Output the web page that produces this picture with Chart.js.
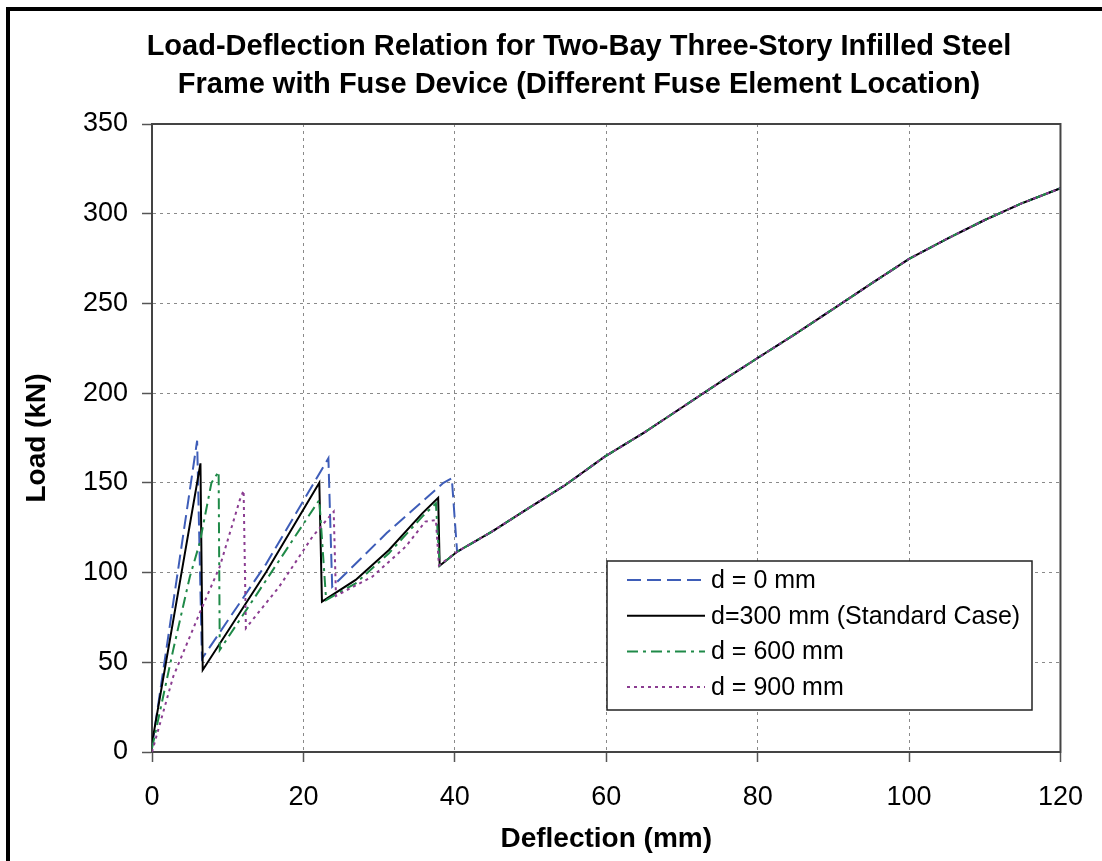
<!DOCTYPE html>
<html>
<head>
<meta charset="utf-8">
<script src="https://cdn.jsdelivr.net/npm/chart.js@4.4.0/dist/chart.umd.min.js"></script>
<style>
html, body { margin: 0; padding: 0; background: #fff; }
#wrap { width: 1102px; height: 861px; }
</style>
</head>
<body>
<div id="wrap"><canvas id="myChart" width="1102" height="861"></canvas></div>
<script>
// values: deflection (mm) / load (kN)
const titleLines = ['Load-Deflection Relation for Two-Bay Three-Story Infilled Steel',
                    'Frame with Fuse Device (Different Fuse Element Location)'];
const xTicks = [0, 20, 40, 60, 80, 100, 120];
const yTicks = [0, 50, 100, 150, 200, 250, 300, 350];
const seriesNames = ['d = 0 mm', 'd=300 mm (Standard Case)', 'd = 600 mm', 'd = 900 mm'];

// shared part after the last fuse drop
const commonDefl = [40.3, 44.9, 49.7, 54.6, 59.8, 65, 70, 75, 80, 85, 90, 95, 100, 105, 110, 115, 120];
const commonLoad = [111.6, 122.8, 135.8, 148.8, 164.6, 178, 192, 206, 219.6, 233, 247, 261, 274.8, 286, 296.5, 306, 314.2];

const d0Defl = [0, 5.96, 6.6, 15.1, 23.3, 23.8, 31, 38.5, 39.6];
const d0Load = [3, 173.5, 52, 105, 163.7, 92.1, 122, 150, 152.6];

const d300Defl = [0, 6.4, 6.7, 15.1, 22.1, 22.45, 26.9, 31.3, 35.7, 37.8, 38.0];
const d300Load = [5, 160.9, 45.7, 100.5, 150.1, 83.8, 95.9, 112.6, 133, 141.7, 103.8];

const d600Defl = [0, 2.8, 5.0, 6.3, 7.85, 8.8, 8.95, 15.1, 22.1, 23.0, 26.9, 31.3, 35.7, 37.5, 38.0];
const d600Load = [2, 56.9, 97.7, 116.5, 150, 156.2, 56.9, 95.9, 140.5, 84.7, 94, 110.8, 131.2, 138.6, 103.8];

const d900Defl = [0, 2.8, 6.3, 8.95, 11.6, 12.1, 12.4, 16.8, 21.2, 24.0, 24.3, 29.1, 33.5, 36.1, 37.5, 37.9];
const d900Load = [0, 42, 77.5, 103.3, 140.5, 145.7, 69, 92.1, 120, 134, 87, 97.7, 114.4, 128.4, 129.3, 104];

function toPoints(defl, load) {
    const pts = [];
    for (let i = 0; i < defl.length; i++) pts.push({x: defl[i], y: load[i]});
    for (let i = 0; i < commonDefl.length; i++) pts.push({x: commonDefl[i], y: commonLoad[i]});
    return pts;
}

const FONT = '"Liberation Sans", Arial, sans-serif';

// frame, plot border, title and the boxed legend
const decor = {
    id: 'decor',
    beforeDraw(chart) {
        const ctx = chart.ctx;
        ctx.save();
        ctx.fillStyle = '#fff';
        ctx.fillRect(0, 0, chart.width, chart.height);
        ctx.fillStyle = '#000';
        ctx.fillRect(6, 7, chart.width - 6, 4);
        ctx.fillRect(6, 7, 4, chart.height - 7);
        ctx.restore();
    },
    beforeDatasetsDraw(chart) {
        const a = chart.chartArea;
        const ctx = chart.ctx;
        ctx.save();
        ctx.strokeStyle = '#444';
        ctx.lineWidth = 2;
        ctx.strokeRect(a.left, a.top, a.right - a.left, a.bottom - a.top);
        ctx.restore();
    },
    afterDraw(chart) {
        const ctx = chart.ctx;
        ctx.save();
        ctx.fillStyle = '#000';
        ctx.font = 'bold 29px ' + FONT;
        ctx.textAlign = 'center';
        ctx.textBaseline = 'middle';
        ctx.fillText(titleLines[0], 579, 47);
        ctx.fillText(titleLines[1], 579, 85);

        // legend
        ctx.fillStyle = '#fff';
        ctx.fillRect(607, 561, 425, 149);
        ctx.strokeStyle = '#222';
        ctx.lineWidth = 1.5;
        ctx.strokeRect(607, 561, 425, 149);
        ctx.textAlign = 'left';
        ctx.font = '25px ' + FONT;
        chart.data.datasets.forEach((ds, i) => {
            const y = 580 + i * 35.7;
            ctx.strokeStyle = ds.borderColor;
            ctx.lineWidth = ds.borderWidth;
            ctx.setLineDash(ds.borderDash || []);
            ctx.beginPath();
            ctx.moveTo(627, y);
            ctx.lineTo(705, y);
            ctx.stroke();
            ctx.setLineDash([]);
            ctx.fillStyle = '#000';
            ctx.fillText(ds.label, 711, y + 1);
        });
        ctx.restore();
    }
};

const ctx = document.getElementById('myChart').getContext('2d');
const chart = new Chart(ctx, {
    type: 'line',
    data: {
        datasets: [{
            label: seriesNames[0],
            data: toPoints(d0Defl, d0Load),
            borderColor: '#3E5DB8',
            borderWidth: 2,
            borderDash: [14, 6],
            order: 4
        }, {
            label: seriesNames[1],
            data: toPoints(d300Defl, d300Load),
            borderColor: '#000000',
            borderWidth: 2,
            order: 3
        }, {
            label: seriesNames[2],
            data: toPoints(d600Defl, d600Load),
            borderColor: '#1F8A48',
            borderWidth: 2,
            borderDash: [11, 5, 3, 5],
            order: 2
        }, {
            label: seriesNames[3],
            data: toPoints(d900Defl, d900Load),
            borderColor: '#8B3D91',
            borderWidth: 2,
            borderDash: [3, 4],
            order: 1
        }]
    },
    options: {
        responsive: false,
        animation: false,
        devicePixelRatio: 1,
        layout: { padding: { top: 124, right: 38, bottom: 0, left: 0 } },
        elements: {
            point: { radius: 0 },
            line: { tension: 0, fill: false }
        },
        plugins: {
            legend: { display: false },
            title: { display: false },
            tooltip: { enabled: false }
        },
        scales: {
            x: {
                type: 'linear',
                min: 0,
                max: 120,
                afterFit: s => { s.height = 109; },
                afterBuildTicks: s => { s.ticks = xTicks.map(v => ({value: v})); },
                ticks: {
                    color: '#000',
                    font: { family: FONT, size: 27 },
                    padding: 19,
                    maxRotation: 0
                },
                grid: { color: '#8a8a8a', tickColor: '#555', tickLength: 10, tickWidth: 1.5 },
                border: { color: '#444', width: 2, dash: [3, 4] },
                title: {
                    display: true,
                    text: 'Deflection (mm)',
                    color: '#000',
                    font: { family: FONT, size: 28, weight: 'bold' },
                    padding: { top: 0, bottom: 5 }
                }
            },
            y: {
                type: 'linear',
                min: 0,
                max: 350,
                afterFit: s => { s.width = 152; },
                afterBuildTicks: s => { s.ticks = yTicks.map(v => ({value: v})); },
                ticks: {
                    color: '#000',
                    font: { family: FONT, size: 27 },
                    padding: 14
                },
                grid: { color: '#8a8a8a', tickColor: '#555', tickLength: 10, tickWidth: 1.5 },
                border: { color: '#444', width: 2, dash: [3, 4] },
                title: {
                    display: true,
                    text: 'Load (kN)',
                    color: '#000',
                    font: { family: FONT, size: 28, weight: 'bold' },
                    padding: { top: 20, bottom: 0 }
                }
            }
        }
    },
    plugins: [decor]
});
</script>
</body>
</html>
